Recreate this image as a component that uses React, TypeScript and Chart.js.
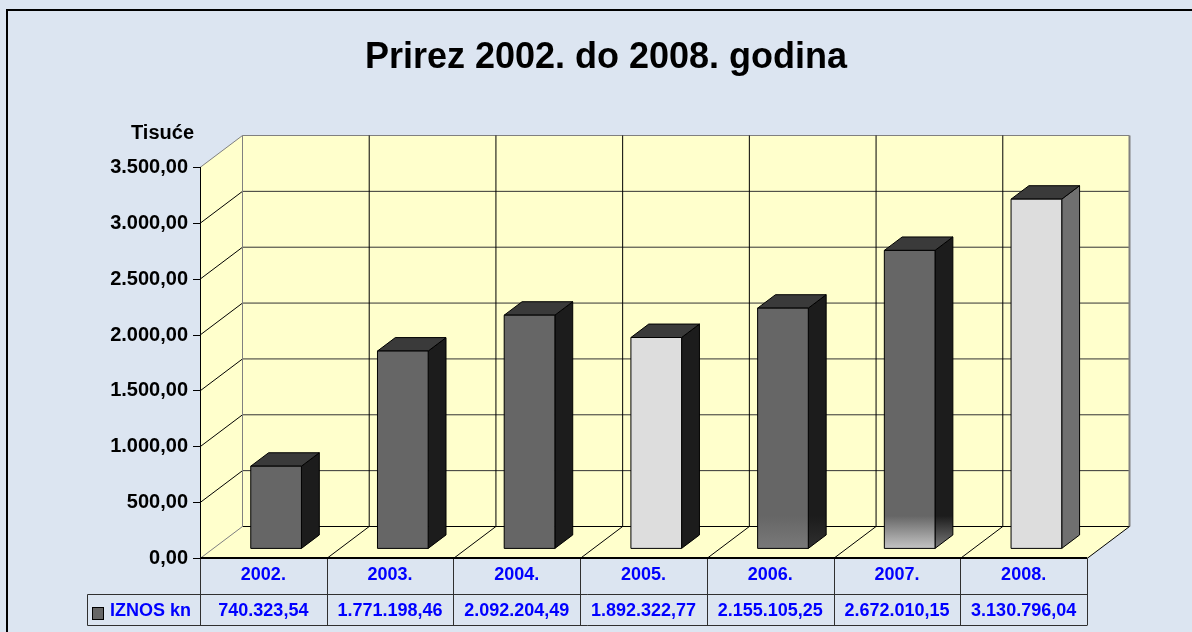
import React, { useEffect, useRef } from 'react';
import { Chart, registerables } from 'chart.js';

Chart.register(...registerables);

// ---------- data ----------
const TITLE = 'Prirez 2002. do 2008. godina';
const UNIT_LABEL = 'Tisuće';
const SERIES_NAME = 'IZNOS kn';
const CATEGORIES = ['2002.', '2003.', '2004.', '2005.', '2006.', '2007.', '2008.'];
const AMOUNTS_KN = [740323.54, 1771198.46, 2092204.49, 1892322.77, 2155105.25, 2672010.15, 3130796.04];
const Y_MIN = 0;
const Y_MAX = 3500;
const Y_STEP = 500;

// ---------- styles ----------
const FRONT_COLORS = ['#666666', '#666666', '#666666', '#DDDDDD', '#666666', '#666666', '#DDDDDD'];
const SIDE_COLORS = ['#1C1C1C', '#1C1C1C', '#1C1C1C', '#1C1C1C', '#1C1C1C', '#1C1C1C', '#707070'];
const BOTTOM_FADE = [0, 0, 0, 0, 0.2, 1, 0];
const TOP_COLOR = '#3A3A3A';
const BG = '#DCE5F1';
const WALL = '#FFFFCC';
const FONT = 'Arial, "Liberation Sans", sans-serif';
const DX = 42.5;
const DY = 32;
const D0 = 0.3;
const D1 = 0.72;

function fmt(n: number): string {
  const neg = n < 0;
  const fixed = Math.abs(n).toFixed(2);
  const [ip, dp] = fixed.split('.');
  const withSep = ip.replace(/\B(?=(\d{3})+(?!\d))/g, '.');
  return (neg ? '-' : '') + withSep + ',' + dp;
}

function hexToRgb(h: string) {
  const v = parseInt(h.slice(1), 16);
  return [(v >> 16) & 255, (v >> 8) & 255, v & 255];
}
function mix(h: string, to: string, t: number) {
  const a = hexToRgb(h), b = hexToRgb(to);
  const c = a.map((x, i) => Math.round(x + (b[i] - x) * t));
  return `rgb(${c[0]},${c[1]},${c[2]})`;
}

function poly(ctx: CanvasRenderingContext2D, pts: number[][], fill?: string | CanvasGradient, stroke?: string, lw = 1) {
  ctx.beginPath();
  ctx.moveTo(pts[0][0], pts[0][1]);
  for (let i = 1; i < pts.length; i++) ctx.lineTo(pts[i][0], pts[i][1]);
  ctx.closePath();
  if (fill) { ctx.fillStyle = fill; ctx.fill(); }
  if (stroke) { ctx.strokeStyle = stroke; ctx.lineWidth = lw; ctx.stroke(); }
}
function line(ctx: CanvasRenderingContext2D, x1: number, y1: number, x2: number, y2: number, color: string, lw = 1) {
  ctx.beginPath();
  ctx.moveTo(x1, y1);
  ctx.lineTo(x2, y2);
  ctx.strokeStyle = color;
  ctx.lineWidth = lw;
  ctx.stroke();
}

const excel3d = {
  id: 'excel3d',
  beforeDraw(chart: any) {
    const { ctx, chartArea: a } = chart;
    const ys = chart.scales.y;
    const n = CATEGORIES.length;
    const cw = (a.right - a.left) / n;
    ctx.save();
    ctx.fillStyle = BG;
    ctx.fillRect(0, 0, chart.width, chart.height);
    ctx.strokeStyle = '#000';
    ctx.lineWidth = 2;
    ctx.strokeRect(7, 10, chart.width + 40, chart.height + 40);

    ctx.fillStyle = '#000';
    ctx.font = `bold 36px ${FONT}`;
    ctx.textAlign = 'center';
    ctx.textBaseline = 'alphabetic';
    ctx.fillText(TITLE, 606, 68);
    ctx.font = `bold 20px ${FONT}`;
    ctx.textAlign = 'right';
    ctx.fillText(UNIT_LABEL, 194, 139);

    const L = a.left, R = a.right;
    const T = ys.getPixelForValue(Y_MAX), B = ys.getPixelForValue(Y_MIN);
    poly(ctx, [[L + DX, T - DY], [R + DX, T - DY], [R + DX, B - DY], [L + DX, B - DY]], WALL);
    poly(ctx, [[L, T], [L + DX, T - DY], [L + DX, B - DY], [L, B]], WALL);
    poly(ctx, [[L, B], [L + DX, B - DY], [R + DX, B - DY], [R, B]], WALL);

    for (let v = Y_MIN; v <= Y_MAX; v += Y_STEP) {
      const py = ys.getPixelForValue(v);
      const edge = v === Y_MIN || v === Y_MAX;
      line(ctx, L + DX, py - DY, R + DX, py - DY, v === Y_MAX ? '#808080' : v === Y_MIN ? '#000' : '#333333');
      line(ctx, L, py, L + DX, py - DY, edge ? '#808080' : '#000');
    }
    for (let k = 0; k <= n; k++) {
      const bx = L + k * cw;
      if (k === 0) {
        line(ctx, bx + DX, T - DY, bx + DX, B - DY, '#808080');
      } else if (k === n) {
        line(ctx, bx + DX, T - DY, bx + DX, B - DY, '#808080', 2);
        line(ctx, bx, B, bx + DX, B - DY, '#000');
      } else {
        line(ctx, bx + DX, T - DY, bx + DX, B - DY, '#000');
        line(ctx, bx, B, bx + DX, B - DY, '#000');
      }
    }
    ctx.restore();
  },
  afterDatasetsDraw(chart: any) {
    const { ctx } = chart;
    const meta = chart.getDatasetMeta(0);
    ctx.save();
    meta.data.forEach((el: any, i: number) => {
      const { x, y, base, width } = el.getProps(['x', 'y', 'base', 'width'], true);
      const l = x - width / 2 + D0 * DX, r = x + width / 2 + D0 * DX;
      const t = y - D0 * DY, b = base - D0 * DY;
      const ddx = (D1 - D0) * DX, ddy = (D1 - D0) * DY;
      const fade = BOTTOM_FADE[i];
      let front: string | CanvasGradient = FRONT_COLORS[i];
      let side: string | CanvasGradient = SIDE_COLORS[i];
      if (fade > 0) {
        const g = ctx.createLinearGradient(0, b - 50, 0, b);
        g.addColorStop(0, FRONT_COLORS[i]);
        g.addColorStop(0.35, FRONT_COLORS[i]);
        g.addColorStop(1, mix(FRONT_COLORS[i], '#C4C4C4', fade));
        front = g;
        const g2 = ctx.createLinearGradient(0, b - 50, 0, b);
        g2.addColorStop(0, SIDE_COLORS[i]);
        g2.addColorStop(0.35, SIDE_COLORS[i]);
        g2.addColorStop(1, mix(SIDE_COLORS[i], '#7A7A7A', fade));
        side = g2;
      }
      poly(ctx, [[r, t], [r + ddx, t - ddy], [r + ddx, b - ddy], [r, b]], side, '#000');
      poly(ctx, [[l, t], [l + ddx, t - ddy], [r + ddx, t - ddy], [r, t]], TOP_COLOR, '#000');
      poly(ctx, [[l, t], [r, t], [r, b], [l, b]], front, '#000');
    });
    ctx.restore();
  },
  afterDraw(chart: any) {
    const { ctx, chartArea: a } = chart;
    const n = CATEGORIES.length;
    const cw = (a.right - a.left) / n;
    const B = chart.scales.y.getPixelForValue(Y_MIN);
    const r1 = B + 36, r2 = r1 + 31;
    const legL = 87.5;
    ctx.save();
    line(ctx, legL, r1, a.right, r1, '#303030');
    line(ctx, legL, r2, a.right, r2, '#303030');
    line(ctx, legL, r1, legL, r2, '#303030');
    for (let k = 0; k <= n; k++) {
      const bx = Math.round(a.left + k * cw) + 0.5;
      line(ctx, bx, B, bx, r2, '#303030');
    }
    line(ctx, a.left, B - 0.5, a.right, B - 0.5, '#000', 2);

    ctx.fillStyle = '#0000FF';
    ctx.font = `bold 18px ${FONT}`;
    ctx.textAlign = 'center';
    ctx.textBaseline = 'middle';
    for (let i = 0; i < n; i++) {
      const cx = a.left + (i + 0.5) * cw;
      ctx.fillText(CATEGORIES[i], cx, (B + r1) / 2 - 1);
      ctx.fillText(fmt(AMOUNTS_KN[i]), cx, (r1 + r2) / 2 + 1);
    }
    ctx.textAlign = 'left';
    ctx.fillText(SERIES_NAME, 110, (r1 + r2) / 2 + 1);
    ctx.fillStyle = '#666666';
    ctx.fillRect(92.5, 607.5, 11, 12);
    ctx.strokeStyle = '#000';
    ctx.lineWidth = 1;
    ctx.strokeRect(92.5, 607.5, 11, 12);
    ctx.restore();
  },
};

export default function App() {
  const ref = useRef<HTMLCanvasElement>(null);
  useEffect(() => {
    const chart = new Chart(ref.current as HTMLCanvasElement, {
      type: 'bar',
      data: {
        labels: CATEGORIES,
        datasets: [
          {
            label: SERIES_NAME,
            data: AMOUNTS_KN.map((v) => v / 1000),
            backgroundColor: 'rgba(0,0,0,0)',
            borderWidth: 0,
            categoryPercentage: 1,
            barPercentage: 0.4,
          },
        ],
      },
      options: {
        responsive: false,
        animation: false,
        devicePixelRatio: 1,
        layout: { padding: { top: 167.5, bottom: 73.5, left: 0, right: 105 } },
        plugins: { legend: { display: false }, tooltip: { enabled: false }, title: { display: false } },
        scales: {
          x: { display: false, offset: true },
          y: {
            min: Y_MIN,
            max: Y_MAX,
            ticks: {
              stepSize: Y_STEP,
              callback: (v: any) => fmt(Number(v)),
              font: { family: FONT, size: 20, weight: 'bold' },
              color: '#000',
              padding: 5,
            },
            grid: { drawOnChartArea: false, drawTicks: true, tickLength: 7, color: '#000', lineWidth: 1 },
            border: { display: true, color: '#000', width: 1 },
            afterFit: (scale: any) => { scale.width = 200; },
          },
        },
      },
      plugins: [excel3d],
    } as any);
    return () => chart.destroy();
  }, []);
  return (
    <div style={{ position: 'absolute', left: 0, top: 0, width: 1192, height: 632 }}>
      <canvas ref={ref} width={1192} height={632} style={{ display: 'block' }} />
    </div>
  );
}
